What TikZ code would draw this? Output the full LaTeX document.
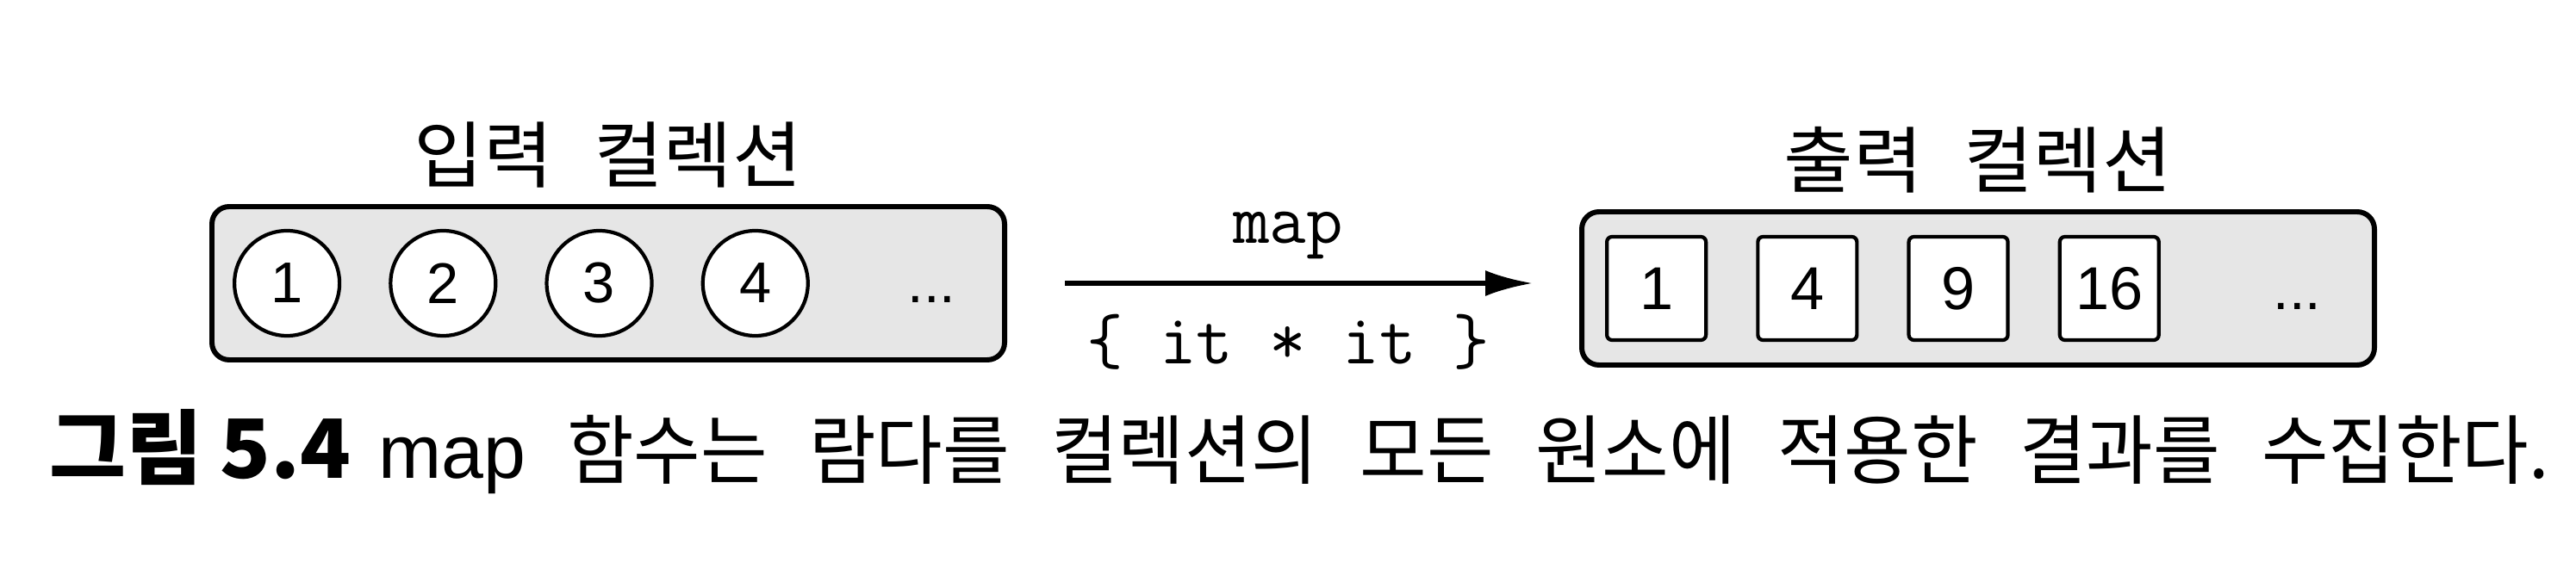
\documentclass[tikz,border=0pt]{standalone}
\usepackage{fontspec}
\setmainfont{Liberation Sans}
\newfontfamily\krtitle{Noto Sans CJK KR}[FakeStretch=1.04,WordSpace=2.4]
\newfontfamily\krcap{Noto Sans CJK KR}[FakeStretch=0.96,WordSpace=2.55]
\newfontfamily\krnum{Noto Sans CJK KR}[FakeStretch=1.02,WordSpace=0.9]
\usetikzlibrary{positioning,arrows.meta}
\definecolor{boxgray}{HTML}{E6E6E6}
\begin{document}
\begin{tikzpicture}[node distance=0.55cm]
    \tikzset{ coll/.style={rectangle,draw,line width=1.7pt,rounded corners=0.2cm,fill=boxgray,minimum width=9.2cm,minimum height=1.78cm},
            circ/.style={circle,draw,line width=1.2pt,fill=white,minimum size=1.22cm,inner sep=0pt,font=\fontsize{19}{21}\selectfont},
            sq/.style={rectangle,draw,line width=1.2pt,rounded corners=0.06cm,fill=white,minimum width=1.15cm,minimum height=1.2cm,inner sep=0pt,font=\fontsize{20}{22}\selectfont},
            dots/.style={inner sep=0pt,font=\fontsize{19}{21}\selectfont},
            title/.style={inner sep=0pt,font=\krtitle\fontsize{24}{28}\selectfont},
            caption/.style={inner sep=0pt,font=\krcap\fontsize{25}{29}\selectfont},
            code/.style={inner sep=0pt,font=\ttfamily\fontsize{23.5}{26}\selectfont},
            arrow/.style={-{Latex[length=0.55cm,width=0.3cm]}, line width=1.5pt}}
    \useasboundingbox (0,0) rectangle (29.9,6.75);

    % 입력
    \node[coll] (inbox) at (7.06,3.46) {};
    \node[circ, right=0.27cm of inbox.west] (c1) {1};
    \node[circ, right=of c1] (c2) {2};
    \node[circ, right=of c2] (c3) {3};
    \node[circ, right=of c3] (c4) {4};
    \node[dots, base right=1.13cm of c4] (indots) {...};
    \node[title, above=0.18cm of inbox] (intitle) {입력 컬렉션};

    % 출력
    \node[coll] (outbox) at (22.96,3.40) {};
    \node[sq, right=0.30cm of outbox.west] (s1) {1};
    \node[sq, right=0.56cm of s1] (s2) {4};
    \node[sq, right=0.56cm of s2] (s3) {9};
    \node[sq, right=0.56cm of s3] (s4) {16};
    \node[dots, base right=1.3cm of s4] (outdots) {...};
    \node[title, above=0.18cm of outbox] (outtitle) {출력 컬렉션};

    % 화살표
    \draw[arrow, shorten <=0.67cm, shorten >=0.54cm] (inbox.east) -- (inbox.east -| outbox.west)
        node[code, midway, above=0.26cm, xshift=-0.06cm] (maplbl) {map}
        node[code, midway, below=0.34cm, xshift=-0.06cm] (lambda) {\{ it * it \}};

    % 캡션
    \node[caption, anchor=west] (fignum) at (0.57,1.55) {\krnum\fontsize{27}{30}\selectfont\bfseries 그림 5.4};
    \node[caption, base right=0.3cm of fignum] (figtext) {{\rmfamily map} 함수는 람다를 컬렉션의 모든 원소에 적용한 결과를 수집한다.};
\end{tikzpicture}
\end{document}
